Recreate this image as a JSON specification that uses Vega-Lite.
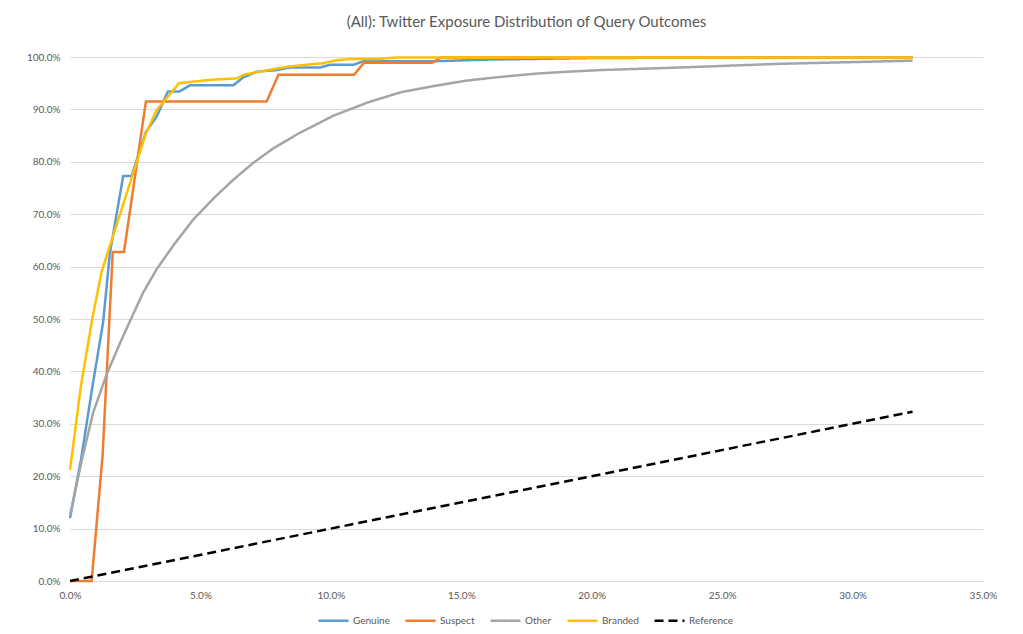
{
  "$schema": "https://vega.github.io/schema/vega-lite/v6.json",
  "width": 913,
  "height": 524,
  "autosize": {"type": "none"},
  "padding": {"left": 70, "top": 57, "right": 40, "bottom": 53},
  "background": "white",
  "title": {
    "text": "(All): Twitter Exposure Distribution of Query Outcomes",
    "font": "Lato",
    "fontSize": 15,
    "fontWeight": "normal",
    "color": "#595959",
    "anchor": "middle",
    "frame": "group",
    "offset": 22
  },
  "config": {
    "view": {"stroke": null},
    "font": "Lato",
    "axis": {"labelFont": "Lato", "labelColor": "#595959", "labelFontSize": 10, "titleFontSize": 10}
  },
  "data": {
    "values": [
      {"s": "Genuine", "x": 0, "y": 0.12},
      {"s": "Genuine", "x": 0.0042, "y": 0.231},
      {"s": "Genuine", "x": 0.0084, "y": 0.365},
      {"s": "Genuine", "x": 0.0127, "y": 0.494},
      {"s": "Genuine", "x": 0.0153, "y": 0.626},
      {"s": "Genuine", "x": 0.0204, "y": 0.773},
      {"s": "Genuine", "x": 0.0236, "y": 0.773},
      {"s": "Genuine", "x": 0.0291, "y": 0.857},
      {"s": "Genuine", "x": 0.0332, "y": 0.886},
      {"s": "Genuine", "x": 0.0375, "y": 0.934},
      {"s": "Genuine", "x": 0.0418, "y": 0.934},
      {"s": "Genuine", "x": 0.046, "y": 0.946},
      {"s": "Genuine", "x": 0.0626, "y": 0.946},
      {"s": "Genuine", "x": 0.0664, "y": 0.961},
      {"s": "Genuine", "x": 0.0716, "y": 0.972},
      {"s": "Genuine", "x": 0.0792, "y": 0.975},
      {"s": "Genuine", "x": 0.0844, "y": 0.98},
      {"s": "Genuine", "x": 0.0959, "y": 0.98},
      {"s": "Genuine", "x": 0.0997, "y": 0.985},
      {"s": "Genuine", "x": 0.1086, "y": 0.985},
      {"s": "Genuine", "x": 0.1125, "y": 0.992},
      {"s": "Genuine", "x": 0.14, "y": 0.992},
      {"s": "Genuine", "x": 0.16, "y": 0.995},
      {"s": "Genuine", "x": 0.2, "y": 0.998},
      {"s": "Genuine", "x": 0.25, "y": 0.999},
      {"s": "Genuine", "x": 0.323, "y": 0.999},
      {"s": "Suspect", "x": 0, "y": 0},
      {"s": "Suspect", "x": 0.0083, "y": 0},
      {"s": "Suspect", "x": 0.0125, "y": 0.24},
      {"s": "Suspect", "x": 0.0164, "y": 0.628},
      {"s": "Suspect", "x": 0.0207, "y": 0.628},
      {"s": "Suspect", "x": 0.0291, "y": 0.915},
      {"s": "Suspect", "x": 0.0754, "y": 0.915},
      {"s": "Suspect", "x": 0.0799, "y": 0.966},
      {"s": "Suspect", "x": 0.1089, "y": 0.966},
      {"s": "Suspect", "x": 0.1127, "y": 0.989},
      {"s": "Suspect", "x": 0.1387, "y": 0.989},
      {"s": "Suspect", "x": 0.142, "y": 0.999},
      {"s": "Suspect", "x": 0.323, "y": 0.999},
      {"s": "Other", "x": 0, "y": 0.125},
      {"s": "Other", "x": 0.0045, "y": 0.23},
      {"s": "Other", "x": 0.0089, "y": 0.322},
      {"s": "Other", "x": 0.0141, "y": 0.395},
      {"s": "Other", "x": 0.019, "y": 0.452},
      {"s": "Other", "x": 0.023, "y": 0.496},
      {"s": "Other", "x": 0.028, "y": 0.55},
      {"s": "Other", "x": 0.0332, "y": 0.595},
      {"s": "Other", "x": 0.04, "y": 0.643},
      {"s": "Other", "x": 0.0473, "y": 0.69},
      {"s": "Other", "x": 0.055, "y": 0.73},
      {"s": "Other", "x": 0.062, "y": 0.763},
      {"s": "Other", "x": 0.07, "y": 0.797},
      {"s": "Other", "x": 0.078, "y": 0.826},
      {"s": "Other", "x": 0.088, "y": 0.855},
      {"s": "Other", "x": 0.101, "y": 0.888},
      {"s": "Other", "x": 0.114, "y": 0.913},
      {"s": "Other", "x": 0.127, "y": 0.933},
      {"s": "Other", "x": 0.14, "y": 0.945},
      {"s": "Other", "x": 0.152, "y": 0.955},
      {"s": "Other", "x": 0.165, "y": 0.962},
      {"s": "Other", "x": 0.178, "y": 0.968},
      {"s": "Other", "x": 0.191, "y": 0.972},
      {"s": "Other", "x": 0.203, "y": 0.975},
      {"s": "Other", "x": 0.234, "y": 0.98},
      {"s": "Other", "x": 0.272, "y": 0.987},
      {"s": "Other", "x": 0.323, "y": 0.993},
      {"s": "Branded", "x": 0, "y": 0.212},
      {"s": "Branded", "x": 0.0042, "y": 0.373},
      {"s": "Branded", "x": 0.0086, "y": 0.502},
      {"s": "Branded", "x": 0.0121, "y": 0.59},
      {"s": "Branded", "x": 0.0291, "y": 0.854},
      {"s": "Branded", "x": 0.0332, "y": 0.899},
      {"s": "Branded", "x": 0.0375, "y": 0.924},
      {"s": "Branded", "x": 0.0418, "y": 0.95},
      {"s": "Branded", "x": 0.0549, "y": 0.957},
      {"s": "Branded", "x": 0.0639, "y": 0.959},
      {"s": "Branded", "x": 0.0664, "y": 0.966},
      {"s": "Branded", "x": 0.0716, "y": 0.971},
      {"s": "Branded", "x": 0.0792, "y": 0.978},
      {"s": "Branded", "x": 0.0844, "y": 0.982},
      {"s": "Branded", "x": 0.092, "y": 0.986},
      {"s": "Branded", "x": 0.097, "y": 0.988},
      {"s": "Branded", "x": 0.1023, "y": 0.994},
      {"s": "Branded", "x": 0.1074, "y": 0.996},
      {"s": "Branded", "x": 0.1176, "y": 0.996},
      {"s": "Branded", "x": 0.125, "y": 0.999},
      {"s": "Branded", "x": 0.323, "y": 0.999},
      {"s": "Reference", "x": 0, "y": 0},
      {"s": "Reference", "x": 0.323, "y": 0.323}
    ]
  },
  "mark": {"type": "line", "strokeWidth": 2.5, "clip": false},
  "encoding": {
    "x": {
      "field": "x",
      "type": "quantitative",
      "scale": {"domain": [0, 0.35], "nice": false, "zero": false},
      "axis": {
        "title": null,
        "values": [0, 0.05, 0.1, 0.15, 0.2, 0.25, 0.3, 0.35],
        "format": ".1%",
        "grid": false,
        "ticks": false,
        "domainColor": "#d9d9d9",
        "domainWidth": 1,
        "labelPadding": 9,
        "labelFlush": false
      }
    },
    "y": {
      "field": "y",
      "type": "quantitative",
      "scale": {"domain": [0, 1], "nice": false},
      "axis": {
        "title": null,
        "values": [0, 0.1, 0.2, 0.3, 0.4, 0.5, 0.6, 0.7, 0.8, 0.9, 1],
        "format": ".1%",
        "grid": true,
        "gridColor": "#d9d9d9",
        "gridWidth": 1,
        "domain": false,
        "ticks": false,
        "labelPadding": 10
      }
    },
    "color": {
      "field": "s",
      "type": "nominal",
      "sort": null,
      "scale": {
        "domain": ["Genuine", "Suspect", "Other", "Branded", "Reference"],
        "range": ["#5B9BD5", "#ED7D31", "#A5A5A5", "#FFC000", "#000000"]
      },
      "legend": {
        "title": null,
        "orient": "none",
        "legendX": 247,
        "legendY": 547,
        "direction": "horizontal",
        "symbolType": "stroke",
        "symbolSize": 900,
        "symbolStrokeWidth": 3,
        "labelFont": "Lato",
        "labelFontSize": 10,
        "labelColor": "#595959",
        "labelOffset": 3,
        "columnPadding": 10
      }
    },
    "strokeDash": {
      "field": "s",
      "type": "nominal",
      "sort": null,
      "scale": {
        "domain": ["Genuine", "Suspect", "Other", "Branded", "Reference"],
        "range": [[1, 0], [1, 0], [1, 0], [1, 0], [9, 5]]
      },
      "legend": null
    },
    "strokeWidth": {
      "field": "s",
      "type": "nominal",
      "scale": {
        "domain": ["Genuine", "Suspect", "Other", "Branded", "Reference"],
        "range": [2.5, 2.5, 2.5, 2.5, 3]
      },
      "legend": null
    }
  }
}
